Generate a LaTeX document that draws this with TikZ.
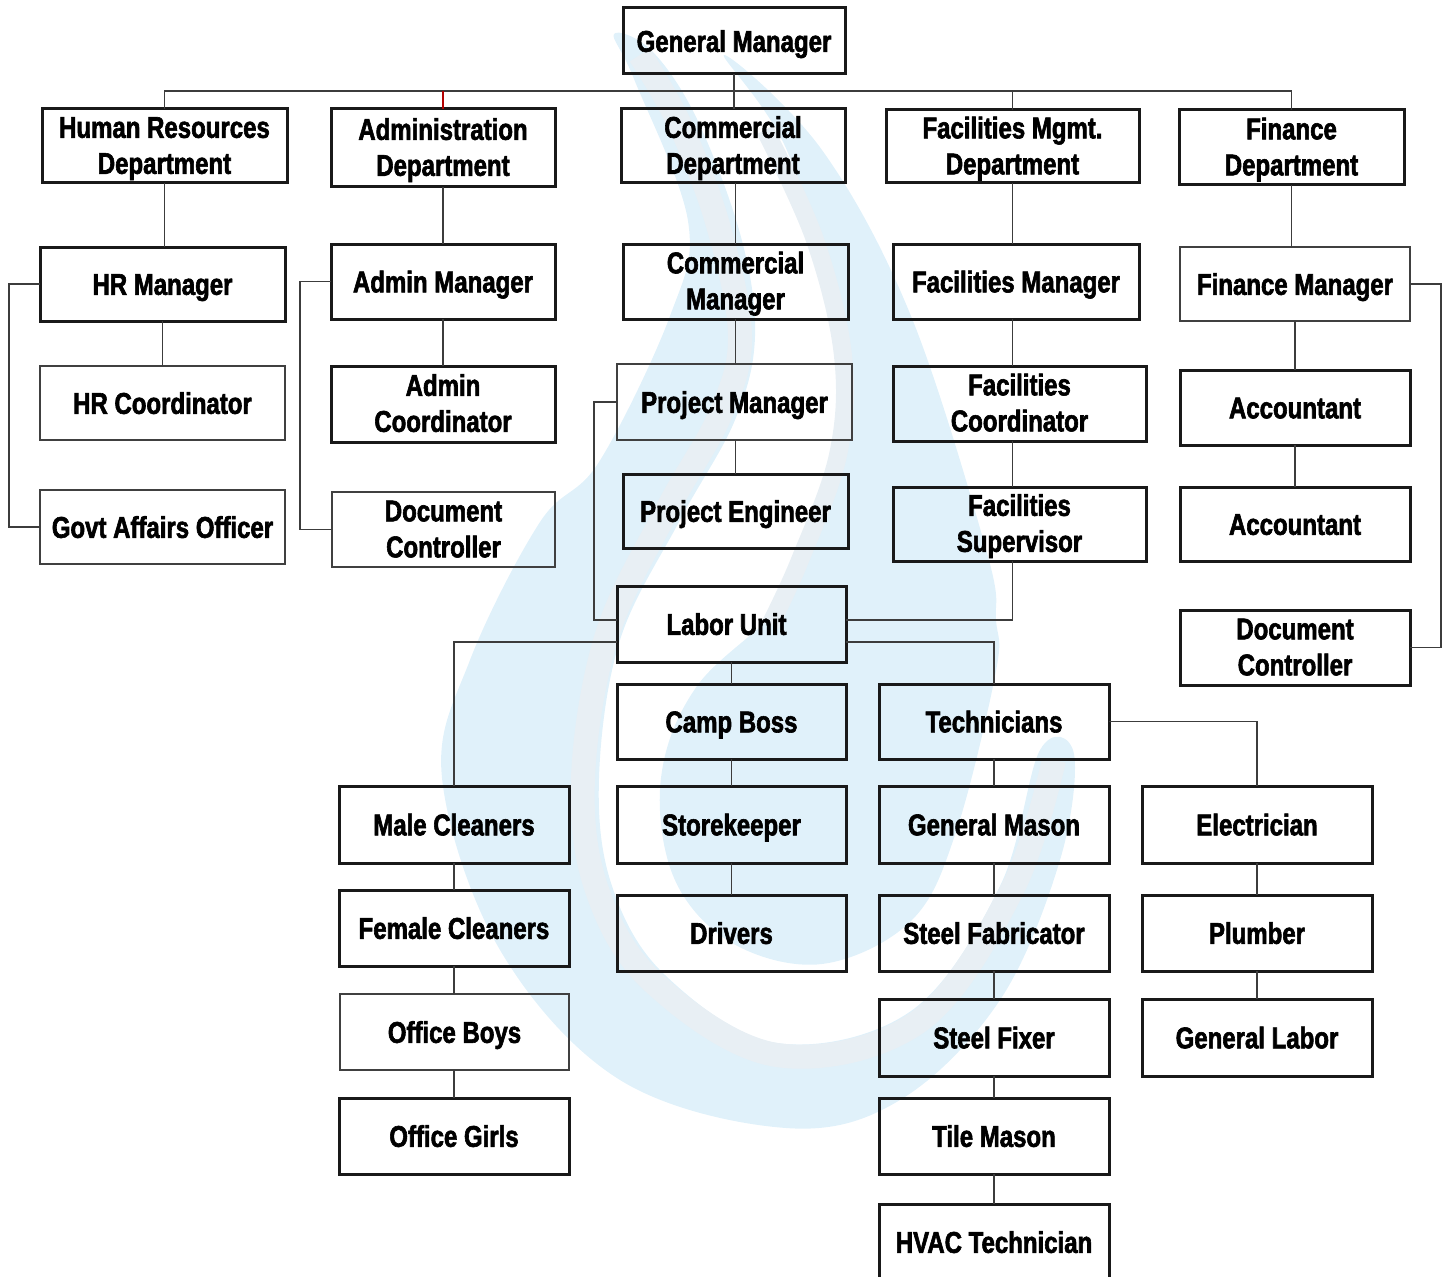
\documentclass[tikz,border=0pt]{standalone}
\usepackage{fontspec}
\newfontfamily\boxfont{Liberation Sans}[UprightFont=* Bold,FakeStretch=0.8,FakeBold=2]
\definecolor{flameblue}{HTML}{E0F1FA}
\definecolor{flamegray}{HTML}{E8EFF4}
\definecolor{linkgray}{HTML}{3C3C3C}
\newcommand{\orgbox}[7][thick box]{%
  \node[#1, minimum width={(#5-#3)*1pt}, minimum height={(#6-#4)*1pt}] (#2)
       at ({(#3+#5)/2},{(#4+#6)/2}) {#7};}
\newcommand{\twolines}[2]{\rule{0pt}{26pt}#1\\#2}

\begin{document}
\begin{tikzpicture}[x=1pt,y=-1pt,
thick box/.style = {% department and post boxes
    draw=black!90, line width=3pt, inner sep=0pt, outer sep=0pt,
    align=center, font=\boxfont\fontsize{30}{36}\selectfont,
    execute at begin node=\rule{0pt}{28pt},
    execute at end node=\vphantom{g},
            },
thin box/.style = {thick box, line width=1.8pt, draw=black!75},
link/.style = {draw=linkgray, line width=1.5pt},
                        ]
\useasboundingbox (0,0) rectangle (1447,1276);
% watermark
\fill[flameblue] plot[smooth cycle,tension=0.6] coordinates {
    (614,34) (652,51) (697,119) (741,237) (755,336) (735,420) (680,520)
    (620,640) (599,778) (612,886) (665,975) (777,1043) (911,1011) (1000,886)
    (1040,750) (1074,754) (1060,860) (1000,1000) (900,1100) (786,1128)
    (620,1080) (500,950) (442,778) (470,660) (540,522) (599,462) (670,316)
    (688,221) (634,79)};
\fill[flameblue] plot[smooth cycle,tension=0.6] coordinates {
    (724,55) (822,150) (911,316) (987,553) (996,620) (996,671) (956,832)
    (911,921) (822,964) (732,943) (674,878) (661,778) (697,686) (786,600)
    (815,520) (830,455) (835,356) (790,158)};
\draw[flamegray,line width=24pt] plot[smooth,tension=0.6] coordinates {
    (640,55) (680,125) (718,225) (740,336) (720,415) (667,510) (607,635)
    (583,778) (597,890) (654,983) (777,1055) (918,1022) (1012,890) (1054,760)};
\draw[flamegray,line width=18pt] plot[smooth,tension=0.6] coordinates {
    (765,130) (815,240) (843,356) (838,455) (800,560) (770,625)};
% top row
\orgbox{gm}{623}{8}{845}{74}{General Manager}
\orgbox{hr}{42}{109}{287}{183}{\twolines{Human Resources}{Department}}
\orgbox{adm}{331}{109}{555}{187}{\twolines{Administration}{Department}}
\orgbox{com}{621}{109}{845}{183}{\twolines{Commercial}{Department}}
\orgbox{fac}{886}{110}{1139}{183}{\twolines{Facilities Mgmt.}{Department}}
\orgbox{fin}{1179}{110}{1404}{185}{\twolines{Finance}{Department}}
% managers
\orgbox{hrm}{40}{247}{285}{321}{HR Manager}
\orgbox{admm}{331}{244}{555}{319}{Admin Manager}
\orgbox{comm}{623}{244}{848}{319}{\twolines{Commercial}{Manager}}
\orgbox{facm}{893}{244}{1139}{319}{Facilities Manager}
\orgbox[thin box]{finm}{1180}{247}{1410}{321}{Finance Manager}
% coordinators
\orgbox[thin box]{hrc}{40}{366}{285}{440}{HR Coordinator}
\orgbox{admc}{331}{366}{555}{442}{\twolines{Admin}{Coordinator}}
\orgbox[thin box]{pm}{617}{364}{852}{440}{Project Manager}
\orgbox{facc}{893}{366}{1146}{441}{\twolines{Facilities}{Coordinator}}
\orgbox{accone}{1180}{370}{1410}{445}{Accountant}
\orgbox[thin box]{govt}{40}{490}{285}{564}{Govt Affairs Officer}
\orgbox[thin box]{doc}{332}{492}{555}{567}{\twolines{Document}{Controller}}
\orgbox{pe}{623}{474}{848}{548}{Project Engineer}
\orgbox{facs}{893}{487}{1146}{561}{\twolines{Facilities}{Supervisor}}
\orgbox{acctwo}{1180}{487}{1410}{561}{Accountant}
\orgbox{findoc}{1180}{610}{1410}{685}{\twolines{Document}{Controller}}
% labor unit
\orgbox{labor}{617}{586}{846}{662}{Labor Unit\hspace*{10pt}}
\orgbox{camp}{617}{684}{846}{759}{Camp Boss}
\orgbox{tech}{879}{684}{1109}{759}{Technicians}
\orgbox{male}{339}{786}{569}{863}{Male Cleaners}
\orgbox{store}{617}{786}{846}{863}{Storekeeper}
\orgbox{mason}{879}{786}{1109}{863}{General Mason}
\orgbox{elec}{1142}{786}{1372}{863}{Electrician}
\orgbox{female}{339}{890}{569}{966}{Female Cleaners}
\orgbox{drivers}{617}{895}{846}{971}{Drivers}
\orgbox{fab}{879}{895}{1109}{971}{Steel Fabricator}
\orgbox{plumber}{1142}{895}{1372}{971}{Plumber}
\orgbox[thin box]{boys}{340}{994}{569}{1070}{Office Boys}
\orgbox{fixer}{879}{999}{1109}{1076}{Steel Fixer}
\orgbox{genlabor}{1142}{999}{1372}{1076}{General Labor}
\orgbox{girls}{339}{1098}{569}{1174}{Office Girls}
\orgbox{tile}{879}{1098}{1109}{1174}{Tile Mason}
\orgbox{hvac}{879}{1204}{1109}{1280}{HVAC Technician}
% bus and rails
\coordinate (bus) at (734,91);
\coordinate (hrrail) at (9,0);
\coordinate (admrail) at (300,0);
\coordinate (pmrail) at (594,0);
\coordinate (finrail) at (1441,0);
\draw[link] (hr.north) |- (bus) -| (fin.north);
\draw[link] (gm.south) -- (gm.south |- com.north);
\draw[link] (fac.north) -- (fac.north |- bus);
\draw[link,draw=red!70!black] (adm.north) -- (adm.north |- bus);
% chains
\foreach \r/\a/\b in {hr/hr/hrm, hrc/hrm/hrc, adm/adm/admm, adm/admm/admc,
        comm/com/comm, comm/comm/pm, comm/pm/pe,
        fac/fac/facm, fac/facm/facc, fac/facc/facs,
        fin/fin/finm, finm/finm/accone, finm/accone/acctwo,
        male/male/female, male/female/boys, male/boys/girls,
        camp/labor/camp, camp/camp/store, camp/store/drivers,
        tech/tech/mason, tech/mason/fab, tech/fab/fixer, tech/fixer/tile, tech/tile/hvac,
        elec/elec/plumber, elec/plumber/genlabor}{
    \draw[link] (\r.south |- \a.south) -- (\r.south |- \b.north);}
% side brackets
\draw[link] (hrm.west) -- (hrm.west -| hrrail) |- (govt.west);
\draw[link] (admm.west) -- (admm.west -| admrail) |- (doc.west);
\draw[link] (finm.east) -- (finm.east -| finrail) |- (findoc.east);
\draw[link] (pm.west) -- (pm.west -| pmrail) |- ([yshift=4pt]labor.west);
\draw[link] (fac.south |- facs.south) |- ([yshift=4pt]labor.east);
% labor unit branches
\draw[link] ([yshift=-18pt]labor.west) -| (male.north);
\draw[link] ([yshift=-18pt]labor.east) -| (tech.north);
\draw[link] (tech.east) -| (elec.north);
\end{tikzpicture}
\end{document}
